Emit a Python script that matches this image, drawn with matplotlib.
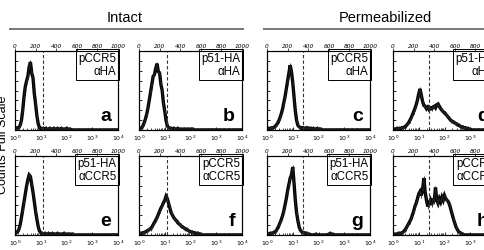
import numpy as np
import matplotlib
matplotlib.use("Agg")
import matplotlib.pyplot as plt
from matplotlib.lines import Line2D
from matplotlib.ticker import LogLocator, NullFormatter, FixedLocator

# ── data: log10 fluorescence bins, counts as % of full scale ──────────
log_bins = np.arange(0, 4.001, 0.05)

counts_a = [2, 2, 3, 3, 6, 12, 25, 42, 55, 62, 68, 80, 86, 72, 66, 46, 33, 18, 8, 3,
            2, 1, 2, 1, 2, 1, 1, 2, 1, 1, 2, 1, 1, 2, 1, 1, 2, 1, 1, 1,
            2, 1, 1, 1, 0, 0, 0, 0, 0, 0, 0, 0, 0, 0, 0, 0, 0, 0, 0, 0,
            0, 0, 0, 0, 0, 0, 0, 0, 0, 0, 0, 0, 0, 0, 0, 0, 0, 0, 0, 0, 0]
counts_b = [1, 2, 3, 5, 9, 14, 20, 28, 38, 48, 58, 68, 70, 78, 84, 74, 72, 58, 50, 34,
            24, 12, 5, 3, 2, 2, 1, 2, 1, 1, 2, 1, 1, 1, 1, 1, 1, 1, 1, 1,
            1, 1, 1, 0, 0, 0, 0, 0, 0, 0, 0, 0, 0, 0, 0, 0, 0, 0, 0, 0,
            0, 0, 0, 0, 0, 0, 0, 0, 0, 0, 0, 0, 0, 0, 0, 0, 0, 0, 0, 0, 0]
counts_c = [1, 2, 2, 2, 3, 3, 4, 6, 8, 11, 15, 20, 26, 34, 42, 52, 62, 72, 82, 74,
            60, 42, 24, 12, 6, 4, 3, 2, 3, 2, 2, 3, 2, 2, 2, 1, 2, 1, 1, 2,
            1, 1, 1, 0, 0, 0, 0, 0, 0, 0, 0, 0, 0, 0, 0, 0, 0, 0, 0, 0,
            0, 0, 0, 0, 0, 0, 0, 0, 0, 0, 0, 0, 0, 0, 0, 0, 0, 0, 0, 0, 0]
counts_d = [1, 1, 1, 2, 1, 2, 2, 3, 3, 4, 5, 7, 9, 12, 15, 19, 23, 27, 32, 38,
            46, 52, 44, 36, 31, 30, 27, 29, 26, 28, 27, 29, 30, 28, 32, 33, 30, 27, 25, 23,
            22, 20, 18, 16, 14, 12, 11, 10, 9, 8, 7, 6, 5, 4, 4, 3, 3, 2, 2, 1,
            1, 0, 0, 0, 0, 0, 0, 0, 0, 0, 0, 0, 0, 0, 0, 0, 0, 0, 0, 0, 0]
counts_e = [2, 3, 4, 7, 13, 22, 32, 42, 52, 62, 70, 76, 74, 64, 54, 42, 30, 20, 11, 5,
            3, 2, 1, 2, 1, 1, 2, 1, 1, 2, 1, 1, 1, 2, 1, 1, 1, 1, 2, 1,
            1, 1, 1, 1, 1, 1, 0, 0, 0, 0, 0, 0, 0, 0, 0, 0, 0, 0, 0, 0,
            0, 0, 0, 0, 0, 0, 0, 0, 0, 0, 0, 0, 0, 0, 0, 0, 0, 0, 0, 0, 0]
counts_f = [1, 2, 2, 3, 3, 4, 5, 6, 7, 8, 10, 13, 16, 19, 22, 26, 30, 34, 37, 41,
            44, 49, 46, 40, 34, 28, 25, 22, 20, 18, 16, 14, 13, 11, 10, 9, 8, 7, 6, 5,
            4, 4, 3, 3, 2, 2, 2, 1, 1, 0, 0, 0, 0, 0, 0, 0, 0, 0, 0, 0,
            0, 0, 0, 0, 0, 0, 0, 0, 0, 0, 0, 0, 0, 0, 0, 0, 0, 0, 0, 0, 0]
counts_g = [1, 1, 2, 2, 2, 3, 4, 5, 8, 11, 15, 19, 24, 30, 38, 46, 56, 64, 72, 76,
            86, 66, 44, 28, 18, 10, 6, 4, 3, 3, 2, 2, 1, 1, 0, 0, 0, 0, 1, 0,
            0, 0, 0, 0, 0, 0, 0, 0, 1, 2, 1, 1, 0, 0, 0, 0, 0, 0, 0, 0,
            0, 0, 0, 0, 0, 0, 0, 0, 0, 0, 0, 0, 0, 0, 0, 0, 0, 0, 0, 0, 0]
counts_h = [1, 1, 1, 1, 2, 2, 2, 3, 4, 6, 8, 11, 14, 17, 20, 25, 30, 36, 40, 46,
            52, 55, 50, 58, 72, 54, 44, 36, 40, 44, 38, 46, 42, 60, 44, 40, 46, 42, 48, 44,
            50, 46, 44, 42, 38, 32, 26, 20, 15, 10, 7, 4, 3, 2, 1, 0, 0, 0, 0, 0,
            0, 0, 0, 0, 0, 0, 0, 0, 0, 0, 0, 0, 0, 0, 0, 0, 0, 0, 0, 0, 0]

panel_letters = ["a", "b", "c", "d", "e", "f", "g", "h"]
panel_line1 = ["pCCR5", "p51-HA", "pCCR5", "p51-HA", "p51-HA", "pCCR5", "p51-HA", "pCCR5"]
panel_line2 = ["\u03b1HA", "\u03b1HA", "\u03b1HA", "\u03b1HA",
               "\u03b1CCR5", "\u03b1CCR5", "\u03b1CCR5", "\u03b1CCR5"]
panel_counts = [counts_a, counts_b, counts_c, counts_d,
                counts_e, counts_f, counts_g, counts_h]
gate_log = [1.07, 1.07, 1.38, 1.38, 1.07, 1.07, 1.38, 1.38]

channel_ticks = [0, 200, 400, 600, 800, 1000]
decade_ticks = [1, 10, 100, 1000, 10000]
decade_labels = ["$10^0$", "$10^1$", "$10^2$", "$10^3$", "$10^4$"]

# ── layout (pixels of a 484x251 figure) ───────────────────────────
W, H = 484, 251
col_left = [15, 139, 267, 393]
row_top = [52, 157]
ax_w, ax_h = 103, 79

fig = plt.figure(figsize=(W / 100, H / 100), dpi=100)
fig.patch.set_facecolor("white")

for i in range(8):
    r, c = divmod(i, 4)
    x0 = col_left[c] / W
    y0 = (H - row_top[r] - ax_h) / H
    ax = fig.add_axes([x0, y0, ax_w / W, ax_h / H])

    # thick noisy trace like the scanned FACS histogram
    ax.plot(10 ** log_bins, panel_counts[i], color="black", lw=2.4,
            solid_joinstyle="miter")
    ax.plot(10 ** log_bins, panel_counts[i], color="#222222", lw=0.6,
            marker="|", ms=3.5, mew=0.6)
    ax.axvline(10 ** gate_log[i], color="#333333", lw=0.8, ls=(0, (3, 2)))

    ax.set_xscale("log")
    ax.set_xlim(1, 1e4)
    ax.set_ylim(0, 100)
    ax.set_xticks(decade_ticks)
    ax.set_xticklabels(decade_labels)
    ax.xaxis.set_minor_locator(LogLocator(base=10, subs=np.arange(2, 10)))
    ax.xaxis.set_minor_formatter(NullFormatter())
    ax.tick_params(axis="x", which="major", direction="in", length=2.5,
                   width=0.6, labelsize=4.5, pad=2)
    ax.tick_params(axis="x", which="minor", direction="in", length=1.5, width=0.5)
    ax.yaxis.set_major_locator(FixedLocator(np.linspace(0, 100, 9)))
    ax.set_yticklabels([])
    ax.tick_params(axis="y", direction="in", length=2.5, width=0.6, left=True)
    for sp in ax.spines.values():
        sp.set_linewidth(0.8)

    top = ax.twiny()
    top.set_xlim(0, 1000)
    top.set_xticks(channel_ticks)
    top.set_xticklabels([str(t) for t in channel_ticks], fontstyle="italic")
    top.tick_params(axis="x", direction="out", length=2, width=0.5,
                    labelsize=4.2, pad=0.5)

    ax.text(0.985, 0.985, panel_line1[i] + "\n" + panel_line2[i],
            transform=ax.transAxes, ha="right", va="top", fontsize=8.3,
            linespacing=1.05, family="Liberation Sans",
            bbox=dict(boxstyle="square,pad=0.25", fc="white", ec="black", lw=0.7))
    ax.text(0.93, 0.07, panel_letters[i], transform=ax.transAxes,
            ha="right", va="bottom", fontsize=14, fontweight="bold",
            family="Liberation Sans")

# ── group titles with rules ───────────────────────────────────────
fig.text(125 / W, 1 - 18 / H, "Intact", ha="center", va="center",
         fontsize=10.5, family="Liberation Sans")
fig.text(385 / W, 1 - 18 / H, "Permeabilized", ha="center", va="center",
         fontsize=10.5, family="Liberation Sans")
fig.add_artist(Line2D([10 / W, 243 / W], [1 - 30 / H, 1 - 30 / H],
                      color="#777777", lw=1.4))
fig.add_artist(Line2D([264 / W, 1.0], [1 - 30 / H, 1 - 30 / H],
                      color="#777777", lw=1.4))

fig.text(3 / W, 1 - 145 / H, "Counts Full Scale", rotation=90,
         ha="center", va="center", fontsize=9, family="Liberation Sans")

fig.savefig("out.png", dpi=100)
